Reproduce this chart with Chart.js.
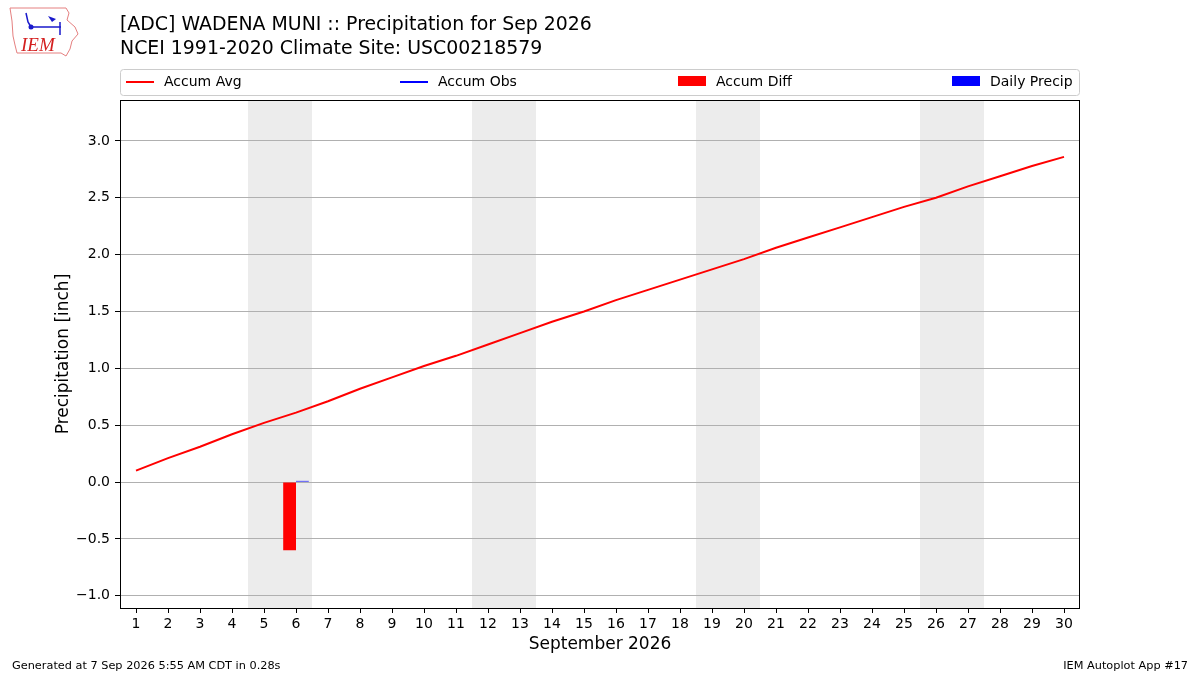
<!DOCTYPE html>
<html>
<head>
<meta charset="utf-8">
<title>Precipitation for Sep 2026</title>
<script src="https://cdn.jsdelivr.net/npm/chart.js@4/dist/chart.umd.min.js"></script>
<style>
  html, body { margin: 0; padding: 0; background: #fff; }
  canvas { display: block; }
</style>
</head>
<body>
<canvas id="precipChart" width="1200" height="675"></canvas>
<script>
// day of month labels
const days = [1, 2, 3, 4, 5, 6, 7, 8, 9, 10, 11, 12, 13, 14, 15,
              16, 17, 18, 19, 20, 21, 22, 23, 24, 25, 26, 27, 28, 29, 30];

// accumulated climatology (inch)
const accumAvg = [0.10, 0.21, 0.31, 0.42, 0.52, 0.61, 0.71, 0.82, 0.92, 1.02,
                  1.11, 1.21, 1.31, 1.41, 1.50, 1.60, 1.69, 1.78, 1.87, 1.96,
                  2.06, 2.15, 2.24, 2.33, 2.42, 2.50, 2.60, 2.69, 2.78, 2.86];

// observations so far
const accumObs = [null, null, null, null, null, 0.01];
const accumDiff = [null, null, null, null, null, -0.60];
const dailyPrecip = [null, null, null, null, null, 0.01];

const yTicks = [-1.0, -0.5, 0.0, 0.5, 1.0, 1.5, 2.0, 2.5, 3.0];

const year = 2026, month = 8; // September

Chart.defaults.font.family = 'DejaVu Sans';
Chart.defaults.color = '#000';

const decor = {
    id: 'decor',
    beforeDraw(chart) {
        const ctx = chart.ctx;
        const area = chart.chartArea;
        const x = chart.scales.x;
        ctx.save();
        ctx.fillStyle = '#fff';
        ctx.fillRect(0, 0, chart.width, chart.height);
        // weekend shading
        const half = (x.getPixelForValue(1) - x.getPixelForValue(0)) / 2;
        ctx.fillStyle = '#ececec';
        days.forEach(function (d, i) {
            if (new Date(year, month, d).getDay() === 6) {
                const x0 = x.getPixelForValue(i) - half;
                const x1 = x.getPixelForValue(Math.min(i + 1, days.length - 1)) + half;
                ctx.fillRect(x0, area.top, x1 - x0, area.bottom - area.top);
            }
        });
        ctx.restore();
    },
    afterDraw(chart) {
        const ctx = chart.ctx;
        const area = chart.chartArea;
        ctx.save();
        // frame
        ctx.strokeStyle = '#000';
        ctx.lineWidth = 1;
        ctx.strokeRect(Math.round(area.left) + 0.5, Math.round(area.top) + 0.5,
            Math.round(area.right - area.left) - 1, Math.round(area.bottom - area.top));

        // titles
        ctx.fillStyle = '#000';
        ctx.font = '18.9px "DejaVu Sans"';
        ctx.textAlign = 'left';
        ctx.textBaseline = 'alphabetic';
        ctx.fillText('[ADC] WADENA MUNI :: Precipitation for Sep 2026', 120, 30);
        ctx.fillText('NCEI 1991-2020 Climate Site: USC00218579', 120, 54);

        // legend
        ctx.strokeStyle = '#cccccc';
        ctx.beginPath();
        ctx.roundRect(120.5, 69.5, 959, 26, 3);
        ctx.stroke();
        const colX = [126, 400, 678, 952];
        ctx.font = '14px "DejaVu Sans"';
        ctx.textBaseline = 'middle';
        chart.data.datasets.forEach(function (ds, i) {
            const lx = colX[i];
            if (ds.type === 'line') {
                ctx.strokeStyle = ds.borderColor;
                ctx.lineWidth = 2;
                ctx.beginPath();
                ctx.moveTo(lx, 82);
                ctx.lineTo(lx + 28, 82);
                ctx.stroke();
            } else {
                ctx.fillStyle = ds.backgroundColor;
                ctx.fillRect(lx, 76, 28, 10);
            }
            ctx.fillStyle = '#000';
            ctx.fillText(ds.label, lx + 38, 82);
        });

        // footer
        ctx.font = '11.3px "DejaVu Sans"';
        ctx.textBaseline = 'alphabetic';
        ctx.fillText('Generated at 7 Sep 2026 5:55 AM CDT in 0.28s', 12, 669);
        ctx.textAlign = 'right';
        ctx.fillText('IEM Autoplot App #17', 1188, 669);

        // logo
        ctx.strokeStyle = '#e58080';
        ctx.lineWidth = 1;
        ctx.beginPath();
        const outline = [[10, 8], [66, 8], [69, 13], [67, 20], [75, 27], [78, 34], [72, 41],
                         [70, 49], [66, 56], [61, 53], [17, 53], [15, 45], [13, 36], [12, 21], [10, 8]];
        outline.forEach(function (p, i) { i ? ctx.lineTo(p[0], p[1]) : ctx.moveTo(p[0], p[1]); });
        ctx.stroke();
        ctx.strokeStyle = '#1a1acc';
        ctx.fillStyle = '#1a1acc';
        ctx.lineWidth = 1.5;
        ctx.beginPath();
        ctx.moveTo(31, 27); ctx.lineTo(61, 27);
        ctx.moveTo(60, 22); ctx.lineTo(60, 35);
        ctx.moveTo(26, 13); ctx.lineTo(28, 22); ctx.lineTo(31, 27);
        ctx.stroke();
        ctx.beginPath();
        ctx.moveTo(48, 16); ctx.lineTo(56, 19); ctx.lineTo(52, 22); ctx.closePath();
        ctx.fill();
        ctx.beginPath();
        ctx.arc(31, 27, 2.5, 0, Math.PI * 2);
        ctx.fill();
        ctx.fillStyle = '#d42020';
        ctx.font = 'italic 19px "Liberation Serif"';
        ctx.textAlign = 'left';
        ctx.fillText('IEM', 21, 51);
        ctx.restore();
    }
};

new Chart(document.getElementById('precipChart').getContext('2d'), {
    type: 'bar',
    data: {
        labels: days,
        datasets: [{
            type: 'line',
            label: 'Accum Avg',
            data: accumAvg,
            borderColor: '#ff0000',
            borderWidth: 2,
            pointRadius: 0,
            tension: 0
        }, {
            type: 'line',
            label: 'Accum Obs',
            data: accumObs,
            borderColor: '#0000ff',
            borderWidth: 2,
            pointRadius: 0
        }, {
            type: 'bar',
            label: 'Accum Diff',
            data: accumDiff,
            backgroundColor: '#ff0000',
            categoryPercentage: 0.8,
            barPercentage: 1.0
        }, {
            type: 'bar',
            label: 'Daily Precip',
            data: dailyPrecip,
            backgroundColor: '#0000ff',
            categoryPercentage: 0.8,
            barPercentage: 1.0
        }]
    },
    options: {
        responsive: false,
        animation: false,
        layout: { padding: { left: 53, right: 120, top: 100, bottom: 0 } },
        plugins: {
            legend: { display: false },
            tooltip: { enabled: false }
        },
        scales: {
            x: {
                offset: true,
                grid: { offset: false, drawOnChartArea: false, drawTicks: true, tickLength: 5, tickColor: '#000' },
                border: { display: false },
                ticks: { font: { size: 14 }, padding: 3, maxRotation: 0, autoSkip: false },
                title: { display: true, text: 'September 2026', font: { size: 17 }, padding: { top: 0, bottom: 20 } },
                afterFit(scale) { scale.height = 67; }
            },
            y: {
                min: -1.108,
                max: 3.36,
                grid: { color: '#b0b0b0', lineWidth: 1, drawTicks: true, tickLength: 5, tickColor: '#000' },
                border: { display: false },
                ticks: {
                    font: { size: 14 },
                    padding: 5,
                    callback: function (v) { return v.toFixed(1).replace('-', '\u2212'); }
                },
                afterBuildTicks(scale) { scale.ticks = yTicks.map(function (v) { return { value: v }; }); },
                title: { display: true, text: 'Precipitation [inch]', font: { size: 17 }, padding: 0 },
                afterFit(scale) { scale.width = 67; }
            }
        }
    },
    plugins: [decor]
});
</script>
</body>
</html>
